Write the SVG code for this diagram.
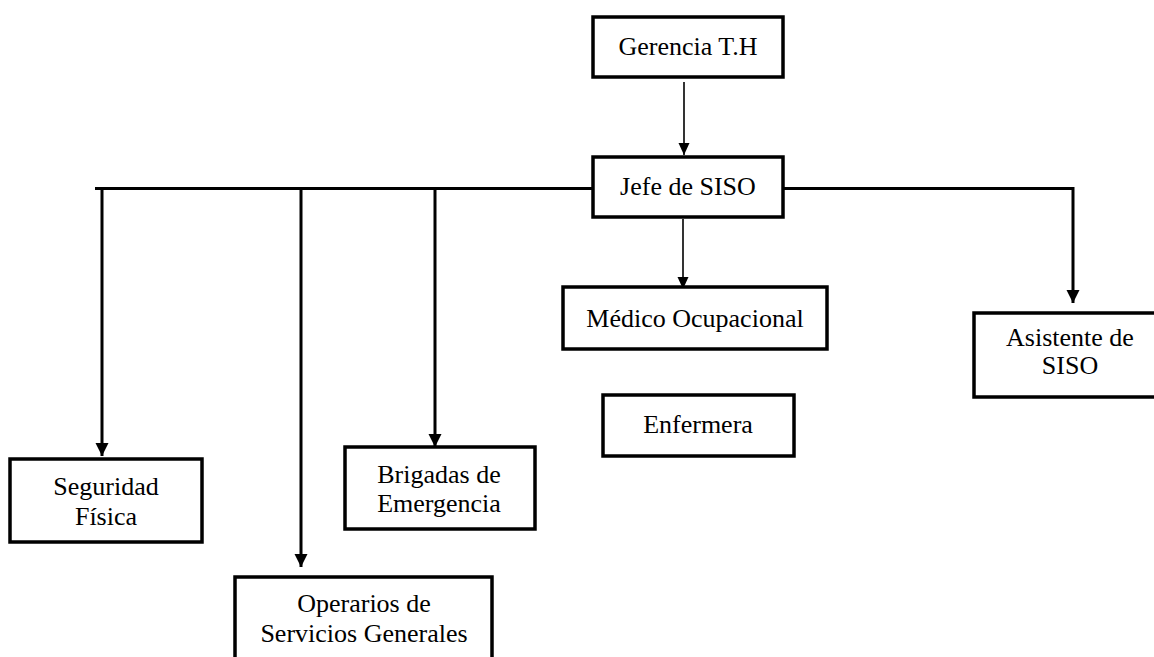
<svg xmlns="http://www.w3.org/2000/svg" width="1154" height="657" viewBox="0 0 1154 657">
<style>
.box{fill:#fff;stroke:#000;stroke-width:3.5}
.t{font-family:'Liberation Serif','Times New Roman',Times,'DejaVu Serif',serif;font-size:26px;fill:#000;text-anchor:middle}
.thick{fill:none;stroke:#000;stroke-width:3}
.thin{fill:none;stroke:#000;stroke-width:1.6}
</style>
<defs>
<marker id="ah" markerUnits="userSpaceOnUse" markerWidth="14" markerHeight="14" refX="13" refY="6.5" orient="auto">
<path d="M0,0 L13,6.5 L0,13 Z" fill="#000"/>
</marker>
<marker id="ahs" markerUnits="userSpaceOnUse" markerWidth="13" markerHeight="12" refX="12" refY="5.5" orient="auto">
<path d="M0,0 L12,5.5 L0,11 Z" fill="#000"/>
</marker>
</defs>
<rect width="1154" height="657" fill="#fff"/>
<g id="connectors">
<path class="thin" d="M684,82 V155" marker-end="url(#ahs)"/>
<path class="thin" d="M683,219 V289" marker-end="url(#ahs)"/>
<path class="thick" d="M95,188.5 H593"/>
<path class="thick" d="M783,188.5 H1073 V303" marker-end="url(#ah)"/>
<path class="thick" d="M102,188.5 V456" marker-end="url(#ah)"/>
<path class="thick" d="M301,188.5 V567" marker-end="url(#ah)"/>
<path class="thick" d="M435,188.5 V447" marker-end="url(#ah)"/>
</g>
<g id="gerencia"><rect class="box" x="593" y="17" width="190" height="60"/><text class="t" x="688" y="55">Gerencia T.H</text></g>
<g id="jefe"><rect class="box" x="593" y="157" width="190" height="60"/><text class="t" x="688" y="195">Jefe de SISO</text></g>
<g id="medico"><rect class="box" x="563" y="287" width="264" height="62"/><text class="t" x="695" y="327">Médico Ocupacional</text></g>
<g id="enfermera"><rect class="box" x="603" y="395" width="191" height="61"/><text class="t" x="698" y="433">Enfermera</text></g>
<g id="asistente"><rect class="box" x="974" y="313" width="192" height="84"/><text class="t" x="1070" y="346">Asistente de</text><text class="t" x="1070" y="374">SISO</text></g>
<g id="seguridad"><rect class="box" x="10" y="459" width="192" height="83"/><text class="t" x="106" y="495">Seguridad</text><text class="t" x="106" y="525">Física</text></g>
<g id="brigadas"><rect class="box" x="345" y="447" width="190" height="82"/><text class="t" x="439" y="483">Brigadas de</text><text class="t" x="439" y="512">Emergencia</text></g>
<g id="operarios"><rect class="box" x="235" y="577" width="257" height="100"/><text class="t" x="364" y="612">Operarios de</text><text class="t" x="364" y="642">Servicios Generales</text></g>
</svg>
